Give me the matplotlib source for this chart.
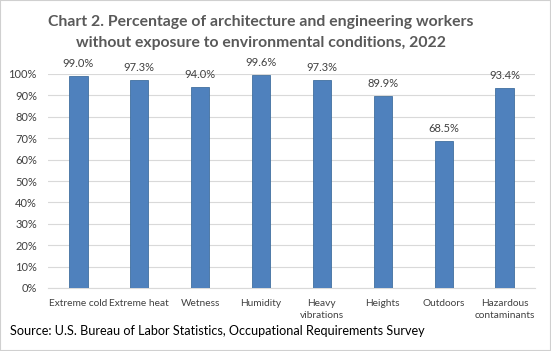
import matplotlib
matplotlib.use("Agg")
import matplotlib.pyplot as plt
from matplotlib.patches import Rectangle
from matplotlib.ticker import FuncFormatter

categories = ["Extreme cold", "Extreme heat", "Wetness", "Humidity", "Heavy\nvibrations",
              "Heights", "Outdoors", "Hazardous\ncontaminants"]
values = [99.0, 97.3, 94.0, 99.6, 97.3, 89.9, 68.5, 93.4]
yticks = list(range(0, 101, 10))

plt.rcParams['font.family'] = ['Lato', 'DejaVu Sans']

fig = plt.figure(figsize=(5.51, 3.51), dpi=100)
W, H = 551, 351
ax = fig.add_axes([48 / W, 1 - 288 / H, (535 - 48) / W, (288 - 74) / H])

x = list(range(len(categories)))
ax.bar(x, values, width=0.30, color="#4f81bd", edgecolor="#41709f", linewidth=0.6, zorder=3)
for xi, v in zip(x, values):
    ax.text(xi, v + 3.3, f"{v:.1f}%", ha="center", va="bottom", fontsize=8, color="#404040")

ax.set_xlim(-0.5, len(categories) - 0.5)
ax.set_ylim(0, 100)
ax.set_yticks(yticks)
ax.yaxis.set_major_formatter(FuncFormatter(lambda v, p: f"{int(v)}%"))
ax.set_xticks(x)
ax.set_xticklabels(categories, fontsize=7.3, color="#404040", linespacing=1.35)
ax.tick_params(axis="y", labelsize=8, labelcolor="#404040", length=0, pad=8)
ax.tick_params(axis="x", length=0, pad=8)
ax.grid(axis="y", color="#d9d9d9", linewidth=0.8, zorder=0)
for s in ["top", "right", "left"]:
    ax.spines[s].set_visible(False)
ax.spines["bottom"].set_color("#d9d9d9")

fig.text(261 / W, 1 - 22 / H, "Chart 2. Percentage of architecture and engineering workers",
         ha="center", va="center", fontsize=11.3, fontweight="bold", color="#595959")
fig.text(261 / W, 1 - 43 / H, "without exposure to environmental conditions, 2022",
         ha="center", va="center", fontsize=11.3, fontweight="bold", color="#595959")
fig.text(10 / W, 1 - 331 / H, "Source: U.S. Bureau of Labor Statistics, Occupational Requirements Survey",
         ha="left", va="center", fontsize=9.1, color="#000000")

fig.patches.append(Rectangle((0, 0), 1, 1, transform=fig.transFigure, fill=False,
                             edgecolor="#d0d0d0", linewidth=1.5))

fig.savefig("out.png", dpi=100)
